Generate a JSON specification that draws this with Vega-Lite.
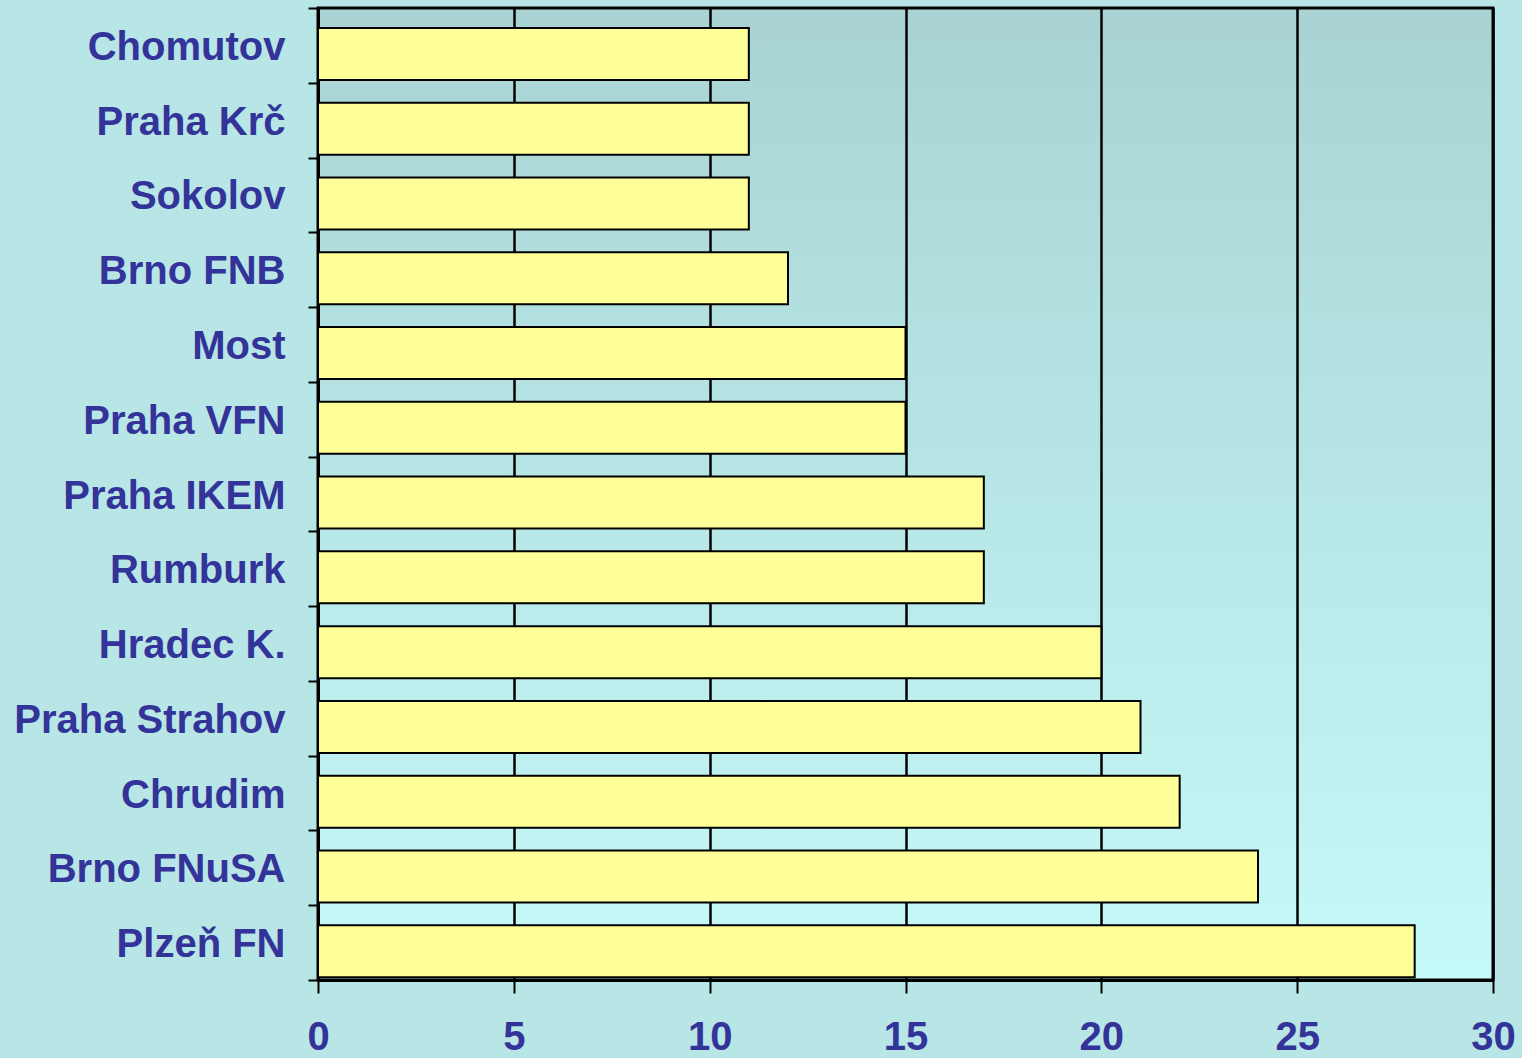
{
  "$schema": "https://vega.github.io/schema/vega-lite/v6.json",
  "width": 1175,
  "height": 972,
  "autosize": "none",
  "padding": {"left": 318, "top": 8, "right": 29, "bottom": 78},
  "background": "#b8e6e6",
  "data": {"values": [
    {"site": "Chomutov", "n": 11},
    {"site": "Praha Krč", "n": 11},
    {"site": "Sokolov", "n": 11},
    {"site": "Brno FNB", "n": 12},
    {"site": "Most", "n": 15},
    {"site": "Praha VFN", "n": 15},
    {"site": "Praha IKEM", "n": 17},
    {"site": "Rumburk", "n": 17},
    {"site": "Hradec K.", "n": 20},
    {"site": "Praha Strahov", "n": 21},
    {"site": "Chrudim", "n": 22},
    {"site": "Brno FNuSA", "n": 24},
    {"site": "Plzeň FN", "n": 28}
  ]},
  "mark": {"type": "bar", "fill": "#ffff99", "stroke": "#000000", "strokeWidth": 2, "height": 52, "yOffset": 8.6},
  "encoding": {
    "y": {
      "field": "site", "type": "nominal", "sort": null,
      "scale": {"paddingInner": 0, "paddingOuter": 0},
      "axis": {
        "title": null, "tickBand": "extent", "domainColor": "#000000", "domainWidth": 3,
        "tickColor": "#000000", "tickWidth": 2, "tickSize": 10,
        "labelFont": "Liberation Sans", "labelFontWeight": "bold", "labelFontSize": 40,
        "labelColor": "#333399", "labelPadding": 23, "labelLimit": 0, "labelOffset": 2, "grid": false
      }
    },
    "x": {
      "field": "n", "type": "quantitative",
      "scale": {"domain": [0, 30], "nice": false},
      "axis": {
        "title": null, "values": [0, 5, 10, 15, 20, 25, 30], "domainColor": "#000000", "domainWidth": 3,
        "tickColor": "#000000", "tickWidth": 2, "tickSize": 13,
        "grid": true, "gridColor": "#000000", "gridWidth": 2.5, "gridOpacity": 1,
        "labelFont": "Liberation Sans", "labelFontWeight": "bold", "labelFontSize": 40,
        "labelColor": "#333399", "labelPadding": 24, "labelFlush": false
      }
    }
  },
  "config": {
    "view": {
      "stroke": "#000000", "strokeWidth": 3,
      "fill": {"gradient": "linear", "x1": 0, "y1": 0, "x2": 0, "y2": 1,
        "stops": [{"offset": 0, "color": "#a9d3d3"}, {"offset": 1, "color": "#c6f9f9"}]}
    }
  }
}
